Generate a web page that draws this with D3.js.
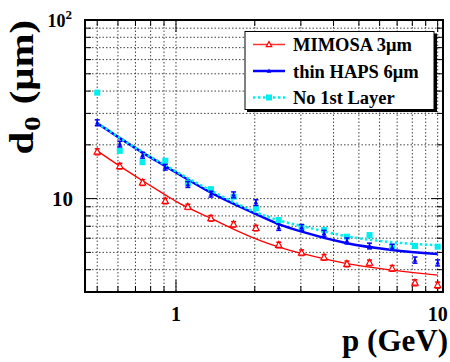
<!DOCTYPE html>
<html>
<head>
<meta charset="utf-8">
<script src="https://cdn.jsdelivr.net/npm/d3@7"></script>
<style>
  body { margin: 0; background: #fff; }
  svg { display: block; }
  svg text { font-family: "Liberation Serif"; font-weight: bold; }
</style>
</head>
<body>
<svg id="chart"></svg>
<script>
// momentum points (GeV)
var pValues = [0.5, 0.61, 0.745, 0.91, 1.11, 1.36, 1.66, 2.02, 2.47, 3.02, 3.68, 4.5, 5.49, 6.7, 8.19, 10.0]
var mimosa = [18.3, 15.2, 12.3, 9.7, 9.0, 7.76, 7.18, 6.84, 5.5, 4.98, 4.69, 4.31, 4.37, 4.07, 3.38, 3.28]
var mimosaErr = [0.7, 0.55, 0.45, 0.35, 0.3, 0.28, 0.25, 0.24, 0.2, 0.18, 0.17, 0.16, 0.16, 0.15, 0.13, 0.13]
var thinHaps = [26.6, 20.2, 17.5, 15.0, 12.0, 10.6, 10.5, 9.5, 6.9, 6.9, 6.4, 5.8, 5.43, 5.35, 4.53, 4.37]
var thinHapsErr = [1.0, 0.75, 0.65, 0.55, 0.45, 0.4, 0.4, 0.35, 0.26, 0.26, 0.24, 0.22, 0.2, 0.2, 0.18, 0.17]
var noFirst = [39.2, 18.5, 16.0, 16.3, 12.2, 11.3, 10.25, 8.83, 7.59, 6.9, 6.67, 6.12, 6.25, 5.38, 5.43, 5.38]

var fitP = [0.5, 0.61, 0.745, 0.91, 1.0, 1.36, 2.02, 2.47, 3.0, 4.5, 6.7, 10]
var mimosaFit = [18.5, 15.2, 12.6, 10.5, 9.65, 7.75, 5.95, 5.35, 4.95, 4.33, 3.98, 3.73]
var thinHapsFit = [26.4, 21.8, 18.1, 15.2, 14.0, 10.8, 8.2, 7.2, 6.55, 5.63, 5.16, 4.9]
var noFirstFit = [26.6, 21.9, 18.2, 15.4, 14.2, 11.1, 8.4, 7.55, 7.05, 6.15, 5.7, 5.48]

var legendLabels = ["MIMOSA 3\u03bcm", "thin HAPS 6\u03bcm", "No 1st Layer"]
var xTickLabels = ["1", "10"]

var W = 450, H = 362
var fx0 = 85, fx1 = 443, fy0 = 20, fy1 = 292
var FONT = "Liberation Serif"

var svg = d3.select("#chart").attr("width", W).attr("height", H)

var x = d3.scaleLog().domain([0.449, 10.48]).range([fx0, fx1])
var y = d3.scaleLog().domain([3, 100]).range([fy1, fy0])

var xMinor = [0.5, 0.6, 0.7, 0.8, 0.9, 2, 3, 4, 5, 6, 7, 8, 9]
var xMajor = [1, 10]
var yMinor = [3, 4, 5, 6, 7, 8, 9, 20, 30, 40, 50, 60, 70, 80, 90]
var yMajor = [10, 100]

function label(g) {
  return g.append("text")
    .attr("font-family", FONT).attr("font-weight", "bold")
    .style("font-family", FONT).style("font-weight", "bold")
}

// grid
var grid = svg.append("g")
grid.selectAll("line.vx")
  .data(xMinor.concat(xMajor))
  .enter()
  .append("line")
  .attr("x1", function(d){ return x(d) })
  .attr("x2", function(d){ return x(d) })
  .attr("y1", fy0)
  .attr("y2", fy1)
  .attr("stroke", "#444")
  .attr("stroke-width", 1)
  .attr("stroke-dasharray", "1.5,2")
grid.selectAll("line.hy")
  .data(yMinor.concat(yMajor))
  .enter()
  .append("line")
  .attr("x1", fx0)
  .attr("x2", fx1)
  .attr("y1", function(d){ return y(d) })
  .attr("y2", function(d){ return y(d) })
  .attr("stroke", "#444")
  .attr("stroke-width", 1)
  .attr("stroke-dasharray", "1.5,2")

// ticks on all four sides, pointing inward
var tk = svg.append("g").attr("stroke", "#000").attr("stroke-width", 1)
xMinor.concat(xMajor).forEach(function(d) {
  var len = xMajor.indexOf(d) >= 0 ? 12 : 6
  tk.append("line").attr("x1", x(d)).attr("x2", x(d)).attr("y1", fy1).attr("y2", fy1 - len)
  tk.append("line").attr("x1", x(d)).attr("x2", x(d)).attr("y1", fy0).attr("y2", fy0 + len)
})
yMinor.concat(yMajor).forEach(function(d) {
  var len = yMajor.indexOf(d) >= 0 ? 12 : 6
  tk.append("line").attr("x1", fx0).attr("x2", fx0 + len).attr("y1", y(d)).attr("y2", y(d))
  tk.append("line").attr("x1", fx1).attr("x2", fx1 - len).attr("y1", y(d)).attr("y2", y(d))
})

// tick labels
xMajor.forEach(function(d, i) {
  label(svg)
    .attr("x", x(d))
    .attr("y", 321)
    .attr("text-anchor", "middle")
    .attr("font-size", 20)
    .text(xTickLabels[i])
})

label(svg)
  .attr("x", 73)
  .attr("y", y(10) + 7)
  .attr("text-anchor", "end")
  .attr("font-size", 21)
  .text("10")
var t100 = label(svg)
  .attr("x", 72)
  .attr("y", 27)
  .attr("text-anchor", "end")
  .attr("font-size", 18)
t100.append("tspan").text("10")
t100.append("tspan").attr("font-size", 13).attr("dy", -8).text("2")

// axis titles
label(svg)
  .attr("x", 448)
  .attr("y", 351)
  .attr("text-anchor", "end")
  .attr("font-size", 31)
  .text("p (GeV)")

var yt = label(svg)
  .attr("transform", "translate(33,20) rotate(-90) scale(1.2,1)")
  .attr("text-anchor", "end")
  .attr("font-size", 34)
yt.append("tspan").text("d")
yt.append("tspan").attr("font-size", 24).attr("dy", 7).attr("dx", 1).text("0")
yt.append("tspan").attr("dy", -7).attr("dx", 10).text("(\u03bcm)")

// fit curves
var line = d3.line()
  .x(function(d){ return x(d[0]) })
  .y(function(d){ return y(d[1]) })
  .curve(d3.curveMonotoneX)

function pairs(a, b) { return a.map(function(v, i){ return [v, b[i]] }) }

var plot = svg.append("g")
plot.append("path").datum(pairs(fitP, thinHapsFit))
  .attr("d", line).attr("fill", "none").attr("stroke", "#0000ff").attr("stroke-width", 2.5)
plot.append("path").datum(pairs(fitP, noFirstFit))
  .attr("d", line).attr("fill", "none").attr("stroke", "#00eeee").attr("stroke-width", 2.5)
  .attr("stroke-dasharray", "2.5,2.5")
plot.append("path").datum(pairs(fitP, mimosaFit))
  .attr("d", line).attr("fill", "none").attr("stroke", "#ff0000").attr("stroke-width", 1.3)

function errorBars(vals, errs, color) {
  var g = plot.append("g").attr("stroke", color).attr("stroke-width", 1.5)
  pValues.forEach(function(p, i) {
    var cx = x(p), lo = y(vals[i] - errs[i]), hi = y(vals[i] + errs[i])
    g.append("line").attr("x1", cx).attr("x2", cx).attr("y1", lo).attr("y2", hi)
    g.append("line").attr("x1", cx - 2.5).attr("x2", cx + 2.5).attr("y1", lo).attr("y2", lo)
    g.append("line").attr("x1", cx - 2.5).attr("x2", cx + 2.5).attr("y1", hi).attr("y2", hi)
  })
}

function triangle(s) {
  return "M0," + (-s) + "L" + (s * 0.9) + "," + (s * 0.7) + "L" + (-s * 0.9) + "," + (s * 0.7) + "Z"
}

// no 1st layer: cyan squares
plot.selectAll("rect.cy")
  .data(noFirst)
  .enter()
  .append("rect")
  .attr("x", function(d, i){ return x(pValues[i]) - 3 })
  .attr("y", function(d){ return y(d) - 3 })
  .attr("width", 6)
  .attr("height", 6)
  .attr("fill", "#00eeee")

// thin HAPS: blue
errorBars(thinHaps, thinHapsErr, "#0000ff")
plot.selectAll("path.bl")
  .data(thinHaps)
  .enter()
  .append("path")
  .attr("transform", function(d, i){ return "translate(" + x(pValues[i]) + "," + y(d) + ")" })
  .attr("d", triangle(2.5))
  .attr("fill", "#0000ff")

// MIMOSA: red open triangles
errorBars(mimosa, mimosaErr, "#ff0000")
plot.selectAll("path.rd")
  .data(mimosa)
  .enter()
  .append("path")
  .attr("transform", function(d, i){ return "translate(" + x(pValues[i]) + "," + y(d) + ")" })
  .attr("d", triangle(3.5))
  .attr("fill", "#fff")
  .attr("stroke", "#ff0000")
  .attr("stroke-width", 1.2)

// frame
svg.append("rect")
  .attr("x", fx0).attr("y", fy0)
  .attr("width", fx1 - fx0).attr("height", fy1 - fy0)
  .attr("fill", "none").attr("stroke", "#000").attr("stroke-width", 2)

// legend
var lg = svg.append("g")
lg.append("rect").attr("x", 247).attr("y", 33.5).attr("width", 190).attr("height", 78.5).attr("fill", "#000")
lg.append("rect").attr("x", 245).attr("y", 31.5).attr("width", 189).attr("height", 78)
  .attr("fill", "#fff").attr("stroke", "#000").attr("stroke-width", 1)

var legendY = [44.5, 71, 97.5]
var legendColor = ["#ff3030", "#0000ff", "#00eeee"]
legendLabels.forEach(function(lab, i) {
  var ly = legendY[i]
  var ln = lg.append("line").attr("x1", 253).attr("x2", 285).attr("y1", ly).attr("y2", ly)
    .attr("stroke", legendColor[i]).attr("stroke-width", i == 0 ? 1.5 : 2.5)
  if (i == 2) ln.attr("stroke-dasharray", "2.5,2.5")
  if (i == 0) {
    lg.append("path").attr("transform", "translate(269," + ly + ")").attr("d", triangle(3))
      .attr("fill", "#fff").attr("stroke", "#ff0000").attr("stroke-width", 1.2)
  } else if (i == 1) {
    lg.append("path").attr("transform", "translate(269," + ly + ")").attr("d", triangle(2.5))
      .attr("fill", "#0000ff")
  } else {
    lg.append("rect").attr("x", 266).attr("y", ly - 3).attr("width", 6).attr("height", 6).attr("fill", "#00eeee")
  }
  label(lg).attr("x", 293).attr("y", ly + 6.5).attr("font-size", 18.5).text(lab)
})
</script>
</body>
</html>
